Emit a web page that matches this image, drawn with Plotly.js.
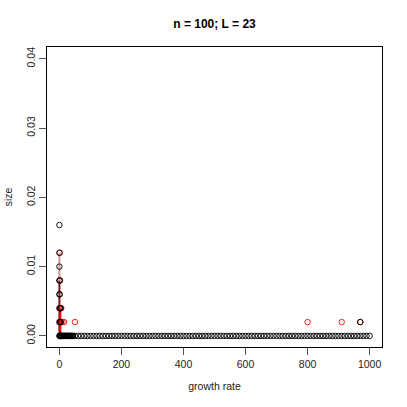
<!DOCTYPE html>
<html><head><meta charset="utf-8">
<script src="https://cdn.plot.ly/plotly-3.0.1.min.js"></script>
<style>html,body{margin:0;padding:0;background:#fff}#p{width:407px;height:407px}</style>
</head><body><div id="p"></div>
<script>
// black open circles: growth rate vs size
const blackX = [0,10,20,30,40,50,60,70,80,90,100,110,120,130,140,150,160,170,180,190,200,210,220,230,240,250,260,270,280,290,300,310,320,330,340,350,360,370,380,390,400,410,420,430,440,450,460,470,480,490,500,510,520,530,540,550,560,570,580,590,600,610,620,630,640,650,660,670,680,690,700,710,720,730,740,750,760,770,780,790,800,810,820,830,840,850,860,870,880,890,900,910,920,930,940,950,960,970,980,990,1000,
  1,2,3,4,5,6,7,8,12,14,16,18,22,24,26,28,32,34,36,38,42,44,
  0,0,0,0,1,0,1,0,2,4,0,2,4,970];
const blackY = [0,0,0,0,0,0,0,0,0,0,0,0,0,0,0,0,0,0,0,0,0,0,0,0,0,0,0,0,0,0,0,0,0,0,0,0,0,0,0,0,0,0,0,0,0,0,0,0,0,0,0,0,0,0,0,0,0,0,0,0,0,0,0,0,0,0,0,0,0,0,0,0,0,0,0,0,0,0,0,0,0,0,0,0,0,0,0,0,0,0,0,0,0,0,0,0,0,0,0,0,0,
  0,0,0,0,0,0,0,0,0,0,0,0,0,0,0,0,0,0,0,0,0,0,
  0.016,0.012,0.010,0.008,0.008,0.006,0.006,0.004,0.004,0.004,0.002,0.002,0.002,0.002];
// red open circles
const redX = [1,2,3,6,5,10,15,50,800,910,970];
const redY = [0.012,0.008,0.004,0.004,0.002,0.002,0.002,0.002,0.002,0.002,0.002];
// vertical segments near zero
const lineLightX = [0,0];
const lineLightY = [0.012,0.008];
const lineDarkX = [0,0];
const lineDarkY = [0.008,0];
const lineRedX = [3,3];
const lineRedY = [0.004,0];
const xTicks = [0,200,400,600,800,1000];
const yTicks = [0,0.01,0.02,0.03,0.04];
const yTickText = ["0.00","0.01","0.02","0.03","0.04"];

const traces = [
  {x:lineLightX,y:lineLightY,mode:'lines',line:{color:'rgb(200,150,150)',width:2},hoverinfo:'skip'},
  {x:lineDarkX,y:lineDarkY,mode:'lines',line:{color:'rgb(120,20,20)',width:2},hoverinfo:'skip'},
  {x:lineRedX,y:lineRedY,mode:'lines',line:{color:'#ff0000',width:2},hoverinfo:'skip'},
  {x:redX,y:redY,mode:'markers',marker:{symbol:'circle-open',size:5.5,color:'#ff0000',line:{width:1,color:'#ff0000'},opacity:0.85}},
  {x:blackX,y:blackY,mode:'markers',marker:{symbol:'circle-open',size:5.5,color:'#000',line:{width:1,color:'#000'},opacity:0.9}}
];
const font = 'Liberation Sans, Arial, sans-serif';
const layout = {
  width:407,height:407,showlegend:false,
  paper_bgcolor:'#fff',plot_bgcolor:'#fff',
  margin:{l:47,r:25,t:47,b:60},
  title:{text:'<b>n = 100; L = 23</b>',font:{family:font,size:12,color:'#000'},x:0.527,xanchor:'center',y:0.941,yanchor:'middle'},
  xaxis:{range:[-40,1040],tickvals:xTicks,ticktext:xTicks.map(String),ticks:'outside',ticklen:7,tickcolor:'#555',tickwidth:1,
    showline:true,mirror:true,linecolor:'#000',linewidth:1,showgrid:false,zeroline:false,
    tickfont:{family:font,size:10.5,color:'#222'},
    title:{text:'growth rate',font:{family:font,size:10.5,color:'#222'},standoff:14}},
  yaxis:{range:[-0.0016,0.0417],tickvals:yTicks,ticktext:yTickText,ticks:'outside',ticklen:7,tickcolor:'#555',tickwidth:1,tickangle:-90,
    showline:true,mirror:true,linecolor:'#000',linewidth:1,showgrid:false,zeroline:false,
    tickfont:{family:font,size:10.5,color:'#222'},
    title:{text:'size',font:{family:font,size:10.5,color:'#222'},standoff:10}}
};
Plotly.newPlot('p',traces,layout,{staticPlot:true,displayModeBar:false});
</script>
</body></html>
